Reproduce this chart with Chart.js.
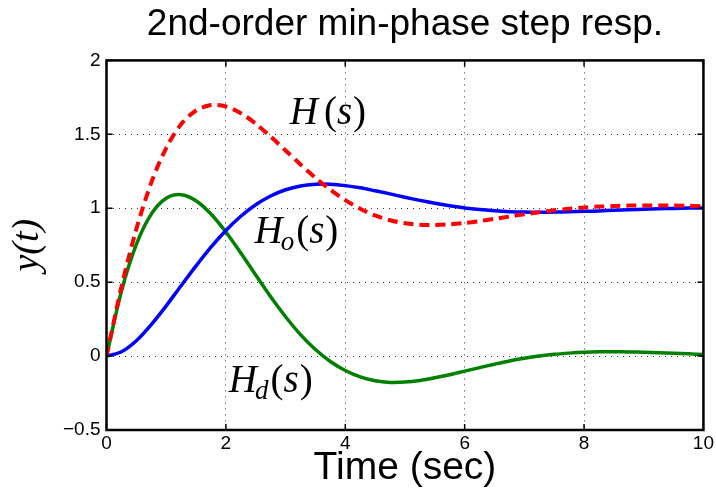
<!DOCTYPE html>
<html>
<head>
<meta charset="utf-8">
<script src="https://cdn.jsdelivr.net/npm/chart.js@4/dist/chart.umd.min.js"></script>
<style>
  html, body { margin: 0; padding: 0; background: #fff; }
  #wrap { width: 716px; height: 494px; }
</style>
</head>
<body>
<div id="wrap"><canvas id="step-canvas"></canvas></div>
<script>
// time samples (sec)
var tSec = [0, 0.25, 0.5, 0.75, 1, 1.25, 1.5, 1.75, 2, 2.25, 2.5, 2.75, 3, 3.25, 3.5, 3.75,
            4, 4.25, 4.5, 4.75, 5, 5.25, 5.5, 5.75, 6, 6.25, 6.5, 6.75, 7, 7.25, 7.5, 7.75,
            8, 8.25, 8.5, 8.75, 9, 9.25, 9.5, 9.75, 10];

// H(s) - red dashed
var yH = [0, 0.467, 0.859, 1.173, 1.407, 1.568, 1.661, 1.698, 1.689, 1.643, 1.572, 1.484,
          1.391, 1.296, 1.206, 1.125, 1.055, 0.997, 0.951, 0.919, 0.898, 0.888, 0.887, 0.891,
          0.900, 0.913, 0.928, 0.944, 0.959, 0.973, 0.986, 0.996, 1.005, 1.011, 1.015, 1.018,
          1.019, 1.018, 1.018, 1.016, 1.013];

// Ho(s) - blue
var yHo = [0, 0.029, 0.104, 0.213, 0.340, 0.476, 0.610, 0.737, 0.850, 0.946, 1.024, 1.083,
           1.125, 1.151, 1.162, 1.162, 1.153, 1.138, 1.118, 1.097, 1.074, 1.053, 1.034, 1.017,
           1.002, 0.991, 0.983, 0.977, 0.974, 0.973, 0.974, 0.976, 0.979, 0.982, 0.986, 0.990,
           0.993, 0.996, 0.999, 1.001, 1.002];

// Hd(s) - green
var yHd = [0, 0.438, 0.755, 0.960, 1.067, 1.092, 1.051, 0.961, 0.839, 0.697, 0.548, 0.401,
           0.266, 0.145, 0.044, -0.037, -0.098, -0.141, -0.167, -0.178, -0.176, -0.165, -0.147, -0.126,
           -0.102, -0.078, -0.055, -0.033, -0.015, 0.000, 0.012, 0.020, 0.026, 0.029, 0.029, 0.028,
           0.026, 0.022, 0.019, 0.015, 0.011];

var xTicks = [0, 2, 4, 6, 8, 10];
var yTicks = [-0.5, 0, 0.5, 1, 1.5, 2];

function pts(ys) {
	return tSec.map(function (t, i) { return { x: t, y: ys[i] }; });
}

// curve labels: [main, subscript, t, y]
var curveLabels = [
	["H", "", 3.07, 1.572],
	["H", "o", 2.48, 0.768],
	["H", "d", 2.05, -0.241]
];

var serif = "'Liberation Serif', 'Times New Roman', serif";
var sans = "'Liberation Sans', Arial, Helvetica, sans-serif";

var boxPlugin = {
	id: "matlabBox",
	afterDraw: function (chart) {
		var c = chart.ctx, a = chart.chartArea;
		var sx = chart.scales.x, sy = chart.scales.y;
		c.save();
		c.strokeStyle = "#000";
		c.lineWidth = 1.5;
		// inner tick marks
		c.beginPath();
		xTicks.forEach(function (v) {
			var px = sx.getPixelForValue(v);
			c.moveTo(px, a.bottom); c.lineTo(px, a.bottom - 6);
			c.moveTo(px, a.top); c.lineTo(px, a.top + 6);
		});
		yTicks.forEach(function (v) {
			var py = sy.getPixelForValue(v);
			c.moveTo(a.left, py); c.lineTo(a.left + 6, py);
			c.moveTo(a.right, py); c.lineTo(a.right - 6, py);
		});
		c.stroke();
		c.lineWidth = 2.5;
		c.strokeRect(a.left, a.top, a.right - a.left, a.bottom - a.top);

		// curve labels
		c.fillStyle = "#000";
		c.textBaseline = "alphabetic";
		c.textAlign = "left";
		curveLabels.forEach(function (l) {
			var x = sx.getPixelForValue(l[2]);
			var y = sy.getPixelForValue(l[3]);
			c.font = "italic 39px " + serif;
			c.fillText(l[0], x, y);
			x += c.measureText(l[0]).width;
			if (l[1]) {
				c.font = "italic 27px " + serif;
				c.fillText(l[1], x - 2, y + 7);
				x += c.measureText(l[1]).width;
			} else {
				x += 6;
			}
			c.font = "39px " + serif;
			c.fillText("(", x, y);
			x += c.measureText("(").width;
			c.font = "italic 39px " + serif;
			c.fillText("s", x, y);
			x += c.measureText("s").width + 1;
			c.font = "39px " + serif;
			c.fillText(")", x, y);
		});
		c.restore();
	}
};

var ctx = document.getElementById("step-canvas");

var chart = new Chart(ctx, {
	type: "line",
	data: {
		datasets: [
			{
				label: "H(s)",
				data: pts(yH),
				borderColor: "#FF0000",
				borderWidth: 4,
				borderDash: [10, 6],
				pointRadius: 0,
				tension: 0.3,
				fill: false
			},
			{
				label: "Ho(s)",
				data: pts(yHo),
				borderColor: "#0000FF",
				borderWidth: 3.5,
				pointRadius: 0,
				tension: 0.3,
				fill: false
			},
			{
				label: "Hd(s)",
				data: pts(yHd),
				borderColor: "#008000",
				borderWidth: 3.5,
				pointRadius: 0,
				tension: 0.3,
				fill: false
			}
		]
	},
	options: {
		responsive: true,
		maintainAspectRatio: false,
		animation: false,
		layout: { padding: { top: 0, right: 11, bottom: 0, left: 0 } },
		plugins: {
			legend: { display: false },
			tooltip: { enabled: false },
			title: {
				display: true,
				fullSize: false,
				text: "2nd-order min-phase step resp.",
				color: "#000",
				font: { family: sans, size: 37, weight: "normal" },
				padding: { top: 3, bottom: 13 }
			}
		},
		scales: {
			x: {
				type: "linear",
				min: 0,
				max: 10,
				afterFit: function (s) { s.height = 64; },
				afterBuildTicks: function (s) { s.ticks = xTicks.map(function (v) { return { value: v }; }); },
				ticks: { color: "#000", padding: 2, font: { family: sans, size: 19 }, maxRotation: 0 },
				grid: { color: "#333", lineWidth: 1, drawTicks: false },
				border: { display: false, dash: [1, 5] },
				title: {
					display: true,
					text: "Time (sec)",
					color: "#000",
					font: { family: sans, size: 39 },
					padding: { top: 0, bottom: 2 }
				}
			},
			y: {
				min: -0.5,
				max: 2,
				afterFit: function (s) { s.width = 106.5; },
				afterBuildTicks: function (s) { s.ticks = yTicks.map(function (v) { return { value: v }; }); },
				ticks: {
					color: "#000",
					padding: 6,
					font: { family: sans, size: 19 },
					callback: function (v) { return String(v).replace("-", "\u2212"); }
				},
				grid: { color: "#333", lineWidth: 1, drawTicks: false },
				border: { display: false, dash: [1, 5] },
				title: {
					display: true,
					text: "y(t)",
					color: "#000",
					font: { family: serif, size: 38, style: "italic" },
					padding: { top: 5, bottom: 0 }
				}
			}
		}
	},
	plugins: [boxPlugin]
});
</script>
</body>
</html>
